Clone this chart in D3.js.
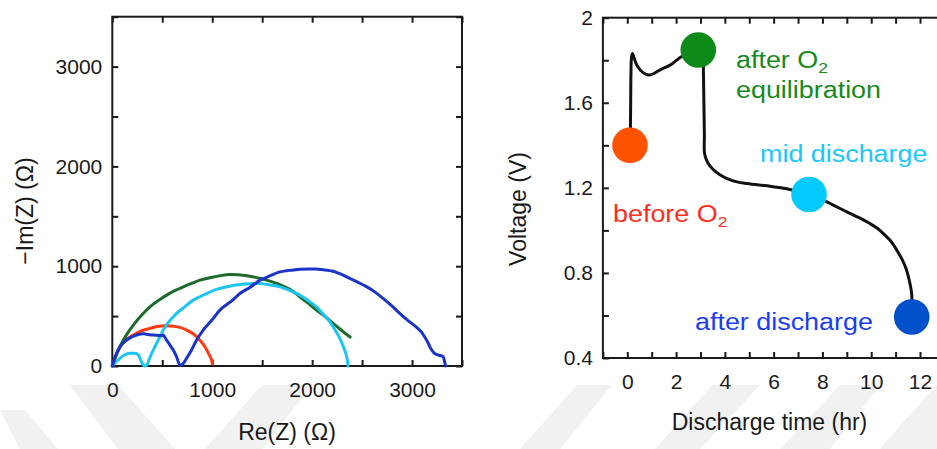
<!DOCTYPE html>
<html>
<head>
<meta charset="utf-8">
<script src="https://cdn.jsdelivr.net/npm/d3@7"></script>
<style>
  html, body { margin: 0; padding: 0; background: #fff; }
  svg { display: block; font-family: "Liberation Sans", Arial, Helvetica, sans-serif; }
</style>
</head>
<body>
<svg id="chart" width="937" height="449"></svg>
<script>
// ---------- Nyquist spectra (Re(Z), -Im(Z)) in ohm ----------
const nyqBefore = [
  [0, 0], [30, 90], [77, 193], [140, 265], [210, 310], [290, 352], [377, 377], [450, 395], [530, 403],
  [610, 398], [677, 387], [760, 352], [827, 310], [880, 255], [927, 193], [965, 120], [994, 60], [1000, 20]
];
const nyqEquil = [
  [0, 0], [27, 77], [65, 170], [111, 260], [160, 340], [211, 410], [290, 505], [377, 593], [460, 655],
  [544, 710], [630, 757], [711, 793], [800, 830], [877, 860], [1000, 890], [1177, 917], [1280, 912],
  [1377, 900], [1460, 882], [1544, 860], [1630, 833], [1711, 800], [1800, 755], [1877, 693],
  [1960, 630], [2044, 560], [2130, 495], [2211, 427], [2311, 343], [2380, 290]
];
const nyqMid = [
  [0, 0], [35, 40], [77, 77], [120, 110], [160, 125], [210, 127], [243, 125], [265, 105], [280, 70],
  [300, 25], [317, 3], [343, 5], [370, 70], [394, 127], [430, 200], [477, 293], [510, 360], [544, 415],
  [600, 480], [643, 527], [720, 590], [810, 660], [920, 715], [1043, 767], [1160, 797], [1277, 817],
  [1380, 825], [1477, 827], [1580, 812], [1677, 793], [1780, 755], [1877, 710], [1960, 655],
  [2043, 593], [2110, 520], [2177, 443], [2230, 360], [2277, 277], [2310, 200], [2337, 127],
  [2352, 60], [2360, 0]
];
const nyqAfter = [
  [0, 0], [43, 127], [90, 210], [144, 260], [211, 300], [244, 310], [310, 322], [344, 318], [420, 310],
  [494, 305], [510, 308], [540, 265], [577, 210], [610, 160], [643, 93], [665, 30], [677, 8], [705, 20],
  [744, 77], [793, 160], [844, 260], [910, 360], [1011, 477], [1077, 560], [1211, 665], [1277, 727],
  [1380, 790], [1477, 860], [1544, 888], [1677, 943], [1811, 962], [1877, 970], [2027, 972], [2110, 965],
  [2211, 950], [2300, 915], [2377, 877], [2460, 838], [2544, 795], [2630, 740], [2710, 677],
  [2800, 600], [2877, 527], [2960, 455], [3043, 390], [3090, 345], [3127, 290], [3161, 230],
  [3190, 170], [3227, 125], [3277, 105], [3310, 95], [3322, 60], [3330, 25], [3335, 0]
];

// ---------- discharge profile (time in hr, voltage in V) ----------
const dischargeCurve = [
  [0.11, 1.40], [0.13, 1.50], [0.14, 1.62], [0.15, 1.74], [0.17, 1.81], [0.21, 1.832], [0.28, 1.81],
  [0.40, 1.775], [0.55, 1.752], [0.75, 1.735], [0.92, 1.731], [1.10, 1.738], [1.30, 1.752],
  [1.55, 1.766], [1.80, 1.780], [2.00, 1.798], [2.20, 1.815], [2.45, 1.828], [2.70, 1.842],
  [2.91, 1.848], [3.10, 1.83], [3.12, 1.75], [3.14, 1.60], [3.16, 1.45], [3.17, 1.36],
  [3.30, 1.318], [3.53, 1.285], [3.80, 1.262], [4.07, 1.245], [4.50, 1.228], [4.90, 1.220],
  [5.40, 1.213], [5.85, 1.208], [6.30, 1.200], [6.67, 1.192], [7.05, 1.180], [7.45, 1.169],
  [7.80, 1.152], [8.18, 1.134], [8.60, 1.110], [9.00, 1.087], [9.50, 1.060], [9.95, 1.032],
  [10.25, 1.010], [10.50, 0.985], [10.80, 0.950], [11.05, 0.907], [11.28, 0.860], [11.45, 0.813],
  [11.58, 0.755], [11.66, 0.700], [11.66, 0.593]
];

// measurement states marked on the discharge curve
const stateNames = ["before O2", "after O2 equilibration", "mid discharge", "after discharge"];
const stateTimes = [0.11, 2.91, 7.45, 11.66];
const stateVolts = [1.40, 1.848, 1.169, 0.593];

// ---------- tick labels ----------
const nyqTicks = [0, 1000, 2000, 3000];
const nyqMinorTicks = [0, 500, 1000, 1500, 2000, 2500, 3000, 3500];
const timeTicks = [0, 2, 4, 6, 8, 10, 12];
const timeMinorTicks = d3.range(-1, 14, 1);
const voltTicks = [0.4, 0.8, 1.2, 1.6, 2.0];
const voltMinorTicks = [0.4, 0.6, 0.8, 1.0, 1.2, 1.4, 1.6, 1.8, 2.0];

const svg = d3.select("#chart");
const INK = "#1a1a1a";

// faint background banner shapes along the bottom
const bannerShapes = [
  [[70, 385], [118, 385], [175, 449], [118, 449]],
  [[0, 410], [25, 410], [58, 449], [20, 449]],
  [[205, 449], [262, 385], [312, 385], [262, 449]],
  [[520, 449], [577, 385], [612, 385], [560, 449]],
  [[655, 449], [712, 385], [760, 385], [700, 449]],
  [[780, 449], [840, 385], [880, 385], [830, 449]],
  [[905, 420], [937, 385], [937, 449], [880, 449]]
];
svg.append("g").selectAll("path").data(bannerShapes).join("path")
  .attr("d", d => "M" + d.join("L") + "Z")
  .attr("fill", "#f1f1f1");

// ============ Left panel: Nyquist plot ============
const xN = d3.scaleLinear().domain([0, 3500]).range([112.3, 462]);
const yN = d3.scaleLinear().domain([0, 3500]).range([366, 16.7]);
const gL = svg.append("g");

function frameAxes(g, x, y, xMinor, yMinor, xMajor, yMajor, yFmt) {
  const [x0, x1] = x.range();
  const [y0, y1] = y.range();
  const tl = 6;
  // bottom axis (inward ticks)
  g.append("g").attr("transform", `translate(0,${y0})`)
    .call(d3.axisBottom(x).tickValues(xMinor).tickSize(-tl).tickFormat(""))
    .call(a => { a.select(".domain").remove(); a.selectAll("line").attr("stroke", INK).attr("stroke-width", 2); });
  g.append("g").attr("transform", `translate(0,${y0})`)
    .call(d3.axisBottom(x).tickValues(xMajor).tickSize(0).tickPadding(16).tickFormat(d3.format("d")))
    .call(a => { a.select(".domain").remove();
      a.selectAll("text").attr("font-size", 21).attr("fill", INK).attr("font-family", "Liberation Sans, Arial, sans-serif").attr("dy", "0.71em"); });
  // top axis
  g.append("g").attr("transform", `translate(0,${y1})`)
    .call(d3.axisTop(x).tickValues(xMinor).tickSize(-tl).tickFormat(""))
    .call(a => { a.select(".domain").remove(); a.selectAll("line").attr("stroke", INK).attr("stroke-width", 2); });
  // left axis
  g.append("g").attr("transform", `translate(${x0},0)`)
    .call(d3.axisLeft(y).tickValues(yMinor).tickSize(-tl).tickFormat(""))
    .call(a => { a.select(".domain").remove(); a.selectAll("line").attr("stroke", INK).attr("stroke-width", 2); });
  g.append("g").attr("transform", `translate(${x0},0)`)
    .call(d3.axisLeft(y).tickValues(yMajor).tickSize(0).tickPadding(10).tickFormat(yFmt))
    .call(a => { a.select(".domain").remove();
      a.selectAll("text").attr("font-size", 21).attr("fill", INK).attr("font-family", "Liberation Sans, Arial, sans-serif"); });
  // right axis
  g.append("g").attr("transform", `translate(${x1},0)`)
    .call(d3.axisRight(y).tickValues(yMinor).tickSize(-tl).tickFormat(""))
    .call(a => { a.select(".domain").remove(); a.selectAll("line").attr("stroke", INK).attr("stroke-width", 2); });
  // frame
  g.append("rect").attr("x", x0).attr("y", y1).attr("width", x1 - x0).attr("height", y0 - y1)
    .attr("fill", "none").attr("stroke", INK).attr("stroke-width", 2);
}

frameAxes(gL, xN, yN, nyqMinorTicks, nyqMinorTicks, nyqTicks, nyqTicks, d3.format("d"));

const nyqLine = d3.line().x(d => xN(d[0])).y(d => yN(d[1])).curve(d3.curveCatmullRom.alpha(0.5));
const nyqSeries = [
  { data: nyqBefore, color: "#ff3a12" },
  { data: nyqEquil, color: "#1c6b2c" },
  { data: nyqMid, color: "#1cc4f2" },
  { data: nyqAfter, color: "#1a34c8" }
];
gL.append("g").selectAll("path").data(nyqSeries).join("path")
  .attr("d", d => nyqLine(d.data))
  .attr("fill", "none").attr("stroke", d => d.color)
  .attr("stroke-width", 3).attr("stroke-linejoin", "round").attr("stroke-linecap", "round");

gL.append("text").attr("x", 287).attr("y", 440).attr("text-anchor", "middle")
  .attr("font-size", 23).attr("fill", INK).text("Re(Z) (Ω)");
gL.append("text").attr("transform", "translate(33,211) rotate(-90)").attr("text-anchor", "middle")
  .attr("font-size", 23).attr("fill", INK).text("−Im(Z) (Ω)");

// ============ Right panel: discharge curve ============
const xT = d3.scaleLinear().domain([-1, 13]).range([602.9, 944.4]);
const yV = d3.scaleLinear().domain([0.4, 2.0]).range([358, 17.7]);
const gR = svg.append("g");

frameAxes(gR, xT, yV, timeMinorTicks, voltMinorTicks, timeTicks, voltTicks, d => d3.format("")(+d.toFixed(1)));

const vLine = d3.line().x(d => xT(d[0])).y(d => yV(d[1])).curve(d3.curveCatmullRom.alpha(0.5));
gR.append("path").attr("d", vLine(dischargeCurve))
  .attr("fill", "none").attr("stroke", "#111").attr("stroke-width", 3)
  .attr("stroke-linejoin", "round").attr("stroke-linecap", "round");

const markerColors = ["#ff5200", "#0e8a1a", "#04cbff", "#0050cc"];
gR.append("g").selectAll("circle").data(stateTimes).join("circle")
  .attr("cx", d => xT(d)).attr("cy", (d, i) => yV(stateVolts[i]))
  .attr("r", 17.8).attr("fill", (d, i) => markerColors[i]);

gR.append("text").attr("x", 769.5).attr("y", 430).attr("text-anchor", "middle")
  .attr("font-size", 23).attr("fill", INK).text("Discharge time (hr)");
gR.append("text").attr("transform", "translate(526,209) rotate(-90)").attr("text-anchor", "middle")
  .attr("font-size", 23).attr("fill", INK).text("Voltage (V)");

// state annotations (wide-set lettering)
const labelColors = ["#ff2e1c", "#178a1c", "#1ec6fa", "#1a40f2"];
function annot(x, y, color, parts) {
  const t = gR.append("text").attr("transform", `translate(${x},${y}) scale(1.17,1)`)
    .attr("font-size", 23).attr("fill", color);
  parts.forEach(p => {
    if (p.sub) t.append("tspan").attr("font-size", 15).attr("dy", 5).text(p.sub);
    else t.append("tspan").attr("dy", p.dy || 0).text(p.text);
  });
  return t;
}
annot(613, 222, labelColors[0], [{ text: "before O" }, { sub: "2" }]);
annot(736, 68, labelColors[1], [{ text: "after O" }, { sub: "2" }]);
annot(736, 97.5, labelColors[1], [{ text: "equilibration" }]);
annot(760, 162, labelColors[2], [{ text: "mid discharge" }]);
annot(695, 329.5, labelColors[3], [{ text: "after discharge" }]);
</script>
</body>
</html>
